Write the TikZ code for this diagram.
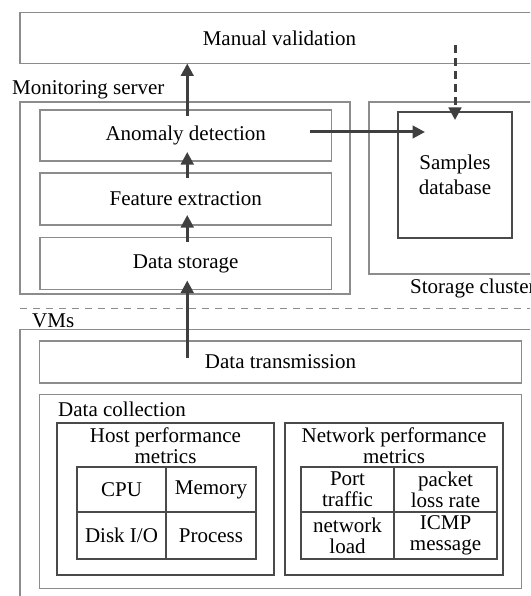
\documentclass[tikz,border=0pt]{standalone}
\usepackage{fontspec}
\setmainfont{Liberation Serif}
\usetikzlibrary{arrows.meta,calc}
\definecolor{boxgray}{HTML}{8C8C8C}
\definecolor{innergray}{HTML}{4A4A4A}
\definecolor{arrowgray}{HTML}{3F3F3F}
\tikzset{
  outerbox/.style={draw=boxgray, line width=1.3pt, inner sep=0pt, outer sep=0pt},
  innerbox/.style={draw=innergray, line width=1.1pt, inner sep=0pt, outer sep=0pt},
  cell/.style={innerbox, align=center},
  lbl/.style={inner sep=0pt, anchor=west},
  flow/.style={draw=arrowgray, line width=3pt,
    -{Triangle[length=12.5pt, width=12.5pt]}},
  flowdash/.style={flow, dash pattern=on 8pt off 5pt},
  sepline/.style={draw=boxgray, line width=1.3pt, dash pattern=on 7pt off 6pt},
}
\begin{document}
\begin{tikzpicture}[x=1pt, y=-1pt, font=\fontsize{21}{21}\selectfont]
\useasboundingbox (0,0) rectangle (530,596);
\clip (0,0) rectangle (530,596);

% top layer
\node[outerbox, minimum width=519pt, minimum height=51pt] (mv) at (279.5,38) {Manual validation};

% monitoring server
\node[lbl] (mslbl) at (12,90) {Monitoring server};
\node[outerbox, minimum width=330pt, minimum height=192pt] (ms) at (185,198) {};
\node[outerbox, minimum width=291.5pt, minimum height=51pt] (ad) at (185.75,135.5) {Anomaly detection};
\node[outerbox, minimum width=291.5pt, minimum height=52pt] (fe) at (185.75,199) {Feature extraction};
\node[outerbox, minimum width=291.5pt, minimum height=52pt] (ds) at (185.75,263.5) {Data storage};

% storage cluster
\node[outerbox, minimum width=176pt, minimum height=172pt] (sc) at (457,188) {};
\node[innerbox, minimum width=114pt, minimum height=126pt, align=center] (sdb) at (455,175) {Samples\\[4pt]database};
\node[lbl] (sclbl) at (410,288) {Storage cluster};

% boundary between hosts
\coordinate (sepL) at (20,308.5);
\coordinate (sepR) at (531,308.5);
\draw[sepline] (sepL) -- (sepR);

% virtual machines
\node[lbl] (vmlbl) at (32,321) {VMs};
\node[outerbox, minimum width=525pt, minimum height=280.5pt] (vms) at (282.5,469.75) {};
\node[outerbox, minimum width=482pt, minimum height=42pt] (dt) at (280.5,362) {Data transmission};
\node[outerbox, minimum width=482pt, minimum height=194pt] (dc) at (280.5,491.5) {};
\node[lbl] (dclbl) at (58,409) {Data collection};

% host metrics
\node[innerbox, minimum width=217pt, minimum height=152pt] (host) at (165.5,499) {};
\node[align=center, inner sep=0pt] (hostlbl) at (165.5,445.5) {Host performance\\metrics};
\node[cell, minimum width=89pt, minimum height=45pt] (cpu) at (121.5,489.5) {CPU};
\node[cell, minimum width=90pt, minimum height=45pt] (mem) at (211,489.5) {Memory};
\node[cell, minimum width=89pt, minimum height=47pt] (disk) at (121.5,535.5) {Disk I/O};
\node[cell, minimum width=90pt, minimum height=47pt] (proc) at (211,535.5) {Process};

% network metrics
\node[innerbox, minimum width=218pt, minimum height=152pt] (net) at (394,499) {};
\node[align=center, inner sep=0pt] (netlbl) at (394,445.5) {Network performance\\metrics};
\node[cell, minimum width=93pt, minimum height=45pt] (port) at (347.5,489.5) {Port\\traffic};
\node[cell, minimum width=103pt, minimum height=45pt] (pkt) at (445.5,489.5) {packet\\loss rate};
\node[cell, minimum width=93pt, minimum height=47pt] (load) at (347.5,535.5) {network\\load};
\node[cell, minimum width=103pt, minimum height=47pt] (icmp) at (445.5,535.5) {ICMP\\message};

% data flow (arrows start a little inside a box and their tips reach into the next)
\coordinate (dtin) at (187.25,358);
\coordinate (adout) at (310,132);
\coordinate (sdbin) at (425,132);
\coordinate (mvin) at (455,45);
\coordinate (sdbtop) at (455,120);
\draw[flow] (dtin) -- ($(ds.south)+(1.5,-9)$);
\draw[flow] ($(ds.north)+(1.5,4)$) -- ($(fe.south)+(1.5,-10)$);
\draw[flow] ($(fe.north)+(1.5,5)$) -- ($(ad.south)+(1.5,-9)$);
\draw[flow] ($(ad.north)+(1.5,6)$) -- ($(ad.north |- mv.south)+(1.5,0)$);
\draw[flow] (adout) -- (sdbin);
\draw[flowdash] (mvin) -- (sdbtop);
\end{tikzpicture}
\end{document}
